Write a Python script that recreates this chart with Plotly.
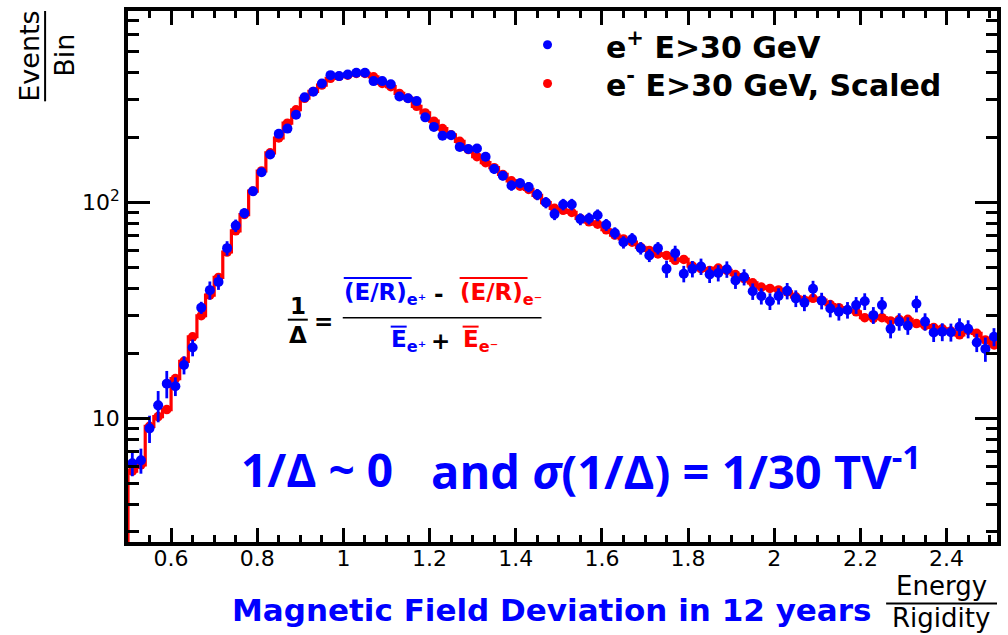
import plotly.graph_objects as go

# ---------------- data ----------------
bin_width = 0.02
bin_centers = [round(0.51 + bin_width * i, 2) for i in range(101)]

positron = [6.2, 6.4, 9.0, 11.5, 14.5, 14.1, 17.7, 21.3, 32.6, 39.3,
            42.9, 61.5, 78.2, 89.3, 112.8, 138, 167, 208, 220, 255,
            307, 326, 356, 389, 385, 392, 399, 399, 365, 365,
            353, 310, 304, 295, 248, 224, 204, 205, 181, 177,
            178, 163, 143, 133, 120, 123, 118, 109, 100, 88.4,
            98, 98, 83.8, 84.4, 87.4, 78.9, 72.2, 65.5, 67.8, 61.5,
            56.9, 61.5, 49.3, 58.3, 46.8, 49.3, 50.6, 46.5, 47.2, 49.1,
            43.6, 45.2, 38.8, 36.9, 34.9, 36.9, 39.0, 36.0, 34.4, 39.9,
            35.1, 32.3, 31.2, 31.8, 33.5, 34.9, 30.1, 33.5, 26.0, 28.1,
            26.9, 34.0, 28.1, 25.0, 25.2, 25.1, 26.6, 26.0, 22.5, 21.0,
            23.9]

positron_err = [0.8, 0.85, 1.3, 1.9, 2.1, 1.4, 1.7, 1.9, 2.1, 3.8,
                3.5, 4.7, 5.2, 4.8, 5.0, 6.0, 7.0, 8.0, 8.5, 9.5,
                11, 11.5, 12, 12.5, 12.5, 12.5, 13, 13, 12.5, 12.5,
                12, 11, 11, 10.5, 9.5, 9, 8.5, 8.5, 8, 8,
                8, 7.5, 7, 6.5, 6.5, 6.5, 6.5, 6.5, 6, 5.5,
                6, 6, 5.3, 5.3, 5.5, 5, 4.6, 4.3, 4.4, 4.1,
                3.9, 4.1, 4.5, 4.8, 4.1, 4.3, 4.4, 4.1, 4.1, 4.3,
                3.8, 3.9, 3.4, 3.2, 3.1, 3.2, 3.4, 3.2, 3.0, 3.5,
                3.1, 2.9, 2.8, 2.8, 3.0, 3.1, 2.7, 3.0, 2.5, 2.6,
                2.5, 3.0, 2.6, 2.4, 2.4, 2.4, 2.5, 2.5, 2.2, 2.7,
                2.3]

electron_scaled = [5.7, 6.1, 9.2, 10.2, 11.0, 15.3, 18.4, 23.9, 29.9, 37.3,
                   45, 59, 74, 88, 113, 140, 170, 199, 233, 269,
                   304, 327, 350, 376, 384, 389, 396, 396, 382, 356,
                   344, 320, 304, 279, 260, 238, 220, 206, 192, 176,
                   163, 153, 145, 135, 126, 119, 115, 108, 100, 94,
                   92, 90, 84.4, 81.4, 79.4, 74.8, 70.7, 67.8, 65.5, 62,
                   60, 57.8, 56.9, 54, 54.5, 50.8, 49.4, 48.5, 49.7, 48.5,
                   46.4, 44.4, 42.5, 40.6, 40.0, 39.4, 38.6, 36.6, 35.3, 36.0,
                   35.3, 33.7, 32.6, 31.8, 31.2, 29.3, 29.1, 29.3, 28.3, 28.7,
                   28.8, 27.5, 26.9, 26.4, 26.0, 25.4, 24.4, 25.6, 24.8, 23.1,
                   21.9]

x_tick_vals = [0.6, 0.8, 1.0, 1.2, 1.4, 1.6, 1.8, 2.0, 2.2, 2.4]
x_tick_text = ["0.6", "0.8", "1", "1.2", "1.4", "1.6", "1.8", "2", "2.2", "2.4"]
y_major_vals = [10, 100]
y_major_text = ["10", "10<sup>2</sup>"]
y_minor_vals = [3, 4, 5, 6, 7, 8, 9, 20, 30, 40, 50, 60, 70, 80, 90,
                200, 300, 400, 500, 600, 700]

# ---------------- geometry helpers ----------------
W, H = 1008, 635
ML, MR, MT, MB = 128, 10, 7, 93


def px(x):
    return (x - ML) / (W - ML - MR)


def py(y):
    return (H - MB - y) / (H - MT - MB)


# step outline for the scaled e- histogram
edges = [round(c - bin_width / 2, 3) for c in bin_centers] + [round(bin_centers[-1] + bin_width / 2, 3)]
step_x = [edges[0]] + edges
step_y = [1.0] + electron_scaled + [electron_scaled[-1]]

fig = go.Figure()

fig.add_trace(go.Scatter(x=step_x, y=step_y, mode="lines", line_shape="hv",
                         line=dict(color="#ff0000", width=3.2), showlegend=False,
                         hoverinfo="skip"))
fig.add_trace(go.Scatter(x=bin_centers, y=electron_scaled, mode="markers",
                         marker=dict(color="#ff0000", size=9.5, line=dict(width=0)),
                         name="e- E>30 GeV, Scaled", showlegend=False))
fig.add_trace(go.Scatter(x=bin_centers, y=positron, mode="markers",
                         marker=dict(color="#0000ff", size=10, line=dict(width=0)),
                         error_y=dict(type="data", array=positron_err, color="#0000ff",
                                      thickness=2.8, width=0),
                         name="e+ E>30 GeV", showlegend=False))
# invisible trace to host the minor-tick overlay axis
fig.add_trace(go.Scatter(x=[None], y=[None], yaxis="y2", showlegend=False))

tick_font = dict(family="DejaVu Sans", size=22, color="black")

fig.update_layout(
    width=W, height=H,
    margin=dict(l=ML, r=MR, t=MT, b=MB, pad=0),
    paper_bgcolor="white", plot_bgcolor="white",
    showlegend=False,
    xaxis=dict(range=[0.5, 2.517], showgrid=False, zeroline=False,
               showline=True, linewidth=3.5, linecolor="black", mirror="ticks",
               ticks="inside", ticklen=14, tickwidth=3, tickcolor="black",
               tickvals=x_tick_vals, ticktext=x_tick_text, tickfont=tick_font,
               ticklabelstandoff=-6,
               minor=dict(ticks="inside", dtick=0.05, tick0=0.5, ticklen=7,
                          tickwidth=2.5, tickcolor="black", showgrid=False)),
    yaxis=dict(type="log", range=[0.428, 2.887], showgrid=False, zeroline=False,
               showline=True, linewidth=3.5, linecolor="black", mirror="ticks",
               ticks="inside", ticklen=22, tickwidth=3, tickcolor="black",
               tickvals=y_major_vals, ticktext=y_major_text, tickfont=tick_font),
    yaxis2=dict(type="log", range=[0.428, 2.887], overlaying="y", side="left",
                showgrid=False, zeroline=False, showline=True, linewidth=3.5,
                linecolor="black", mirror="ticks", ticks="inside", ticklen=11,
                tickwidth=2.5, tickcolor="black", tickvals=y_minor_vals,
                showticklabels=False),
)

ann = []
shapes = []


def text(x, y, s, size, color="black", family="DejaVu Sans", bold=False,
         xanchor="center", yanchor="middle", angle=0):
    ann.append(dict(x=px(x), y=py(y), xref="paper", yref="paper", text=s,
                    showarrow=False, xanchor=xanchor, yanchor=yanchor,
                    textangle=angle,
                    font=dict(family=family, size=size, color=color,
                              weight="bold" if bold else "normal")))


def hline(x0, x1, y, color="black", width=1.6):
    shapes.append(dict(type="line", xref="paper", yref="paper",
                       x0=px(x0), x1=px(x1), y0=py(y), y1=py(y),
                       line=dict(color=color, width=width)))


# y-axis title (fraction, rotated)
text(30, 53, "Events", 27, angle=-90)
text(65, 52, "Bin", 27, angle=-90)
shapes.append(dict(type="line", xref="paper", yref="paper", x0=px(45), x1=px(45),
                   y0=py(7), y1=py(98), line=dict(color="black", width=2)))

# x-axis title (fraction)
text(942, 586, "Energy", 26)
hline(887, 998, 604, width=2)
text(942, 619, "Rigidity", 26)

# blue caption
text(552, 611, "Magnetic Field Deviation in 12 years", 31, color="#0000ff", bold=True)

# legend
for yy, col in ((41, "#0000ff"), (80, "#ff0000")):
    shapes.append(dict(type="circle", xref="paper", yref="paper",
                       xsizemode="pixel", ysizemode="pixel",
                       xanchor=px(548), yanchor=py(yy),
                       x0=-4.5, x1=4.5, y0=-4.5, y1=4.5,
                       fillcolor=col, line=dict(width=0)))
text(605, 42, "e<sup>+</sup> E&gt;30 GeV", 30, bold=True, xanchor="left")
text(605, 80, "e<sup>-</sup> E&gt;30 GeV, Scaled", 30, bold=True, xanchor="left")

# formula 1/Delta = ((E/R)e+ - (E/R)e-) / (E_e+ + E_e-)
fs = 23
text(298, 304, "1", fs, bold=True)
hline(288, 308, 318, width=2)
text(298, 333, "Δ", fs, bold=True)
text(324, 319, "=", fs, bold=True)

text(342, 292, "(E/R)<sub>e⁺</sub>", fs, color="#0000ff", bold=True, xanchor="left")
hline(344, 412, 276, color="#0000ff", width=2)
text(439, 292, "-", fs, bold=True)
text(458, 292, "(E/R)<sub>e⁻</sub>", fs, color="#ff0000", bold=True, xanchor="left")
hline(460, 528, 276, color="#ff0000", width=2)

hline(343, 542, 316, width=1.6)

text(389, 339, "E<sub>e⁺</sub>", fs, color="#0000ff", bold=True, xanchor="left")
hline(391, 407, 325, color="#0000ff", width=2)
text(441, 339, "+", fs, bold=True)
text(461, 339, "E<sub>e⁻</sub>", fs, color="#ff0000", bold=True, xanchor="left")
hline(463, 479, 325, color="#ff0000", width=2)

# big blue statement
text(239, 468, "1/Δ ~ 0", 46, color="#0000ff", family="Open Sans", bold=True, xanchor="left")
text(924, 468, "and <i>σ</i>(1/Δ) = 1/30 TV<sup>-1</sup>", 47, color="#0000ff",
     family="Open Sans", bold=True, xanchor="right")

fig.update_layout(annotations=ann, shapes=shapes)

fig.write_html("out.html")
